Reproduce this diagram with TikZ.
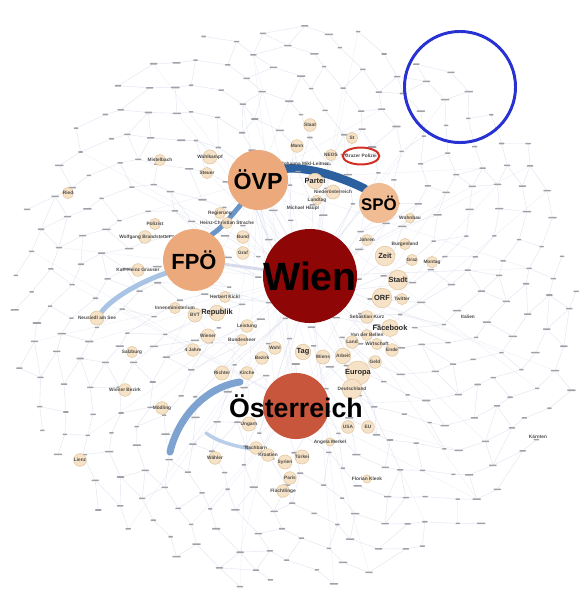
\documentclass[tikz,border=0pt]{standalone}
\usepackage{fontspec}
\setmainfont{Liberation Sans}
\usetikzlibrary{shapes.geometric}

\definecolor{wienred}{RGB}{142,6,6}
\definecolor{oered}{RGB}{200,86,60}
\definecolor{party}{RGB}{236,170,124}
\definecolor{partylight}{RGB}{240,188,148}
\definecolor{smallfill}{RGB}{246,226,198}
\definecolor{smalldraw}{RGB}{228,200,160}
\definecolor{dashgray}{RGB}{160,160,168}
\definecolor{faintblue}{RGB}{214,218,236}
\definecolor{darkband}{RGB}{44,96,158}
\definecolor{midband}{RGB}{104,148,200}
\definecolor{lightband}{RGB}{168,195,228}
\definecolor{ringblue}{RGB}{40,50,210}
\definecolor{ringred}{RGB}{210,46,36}

\pgfdeclarelayer{bg}
\pgfdeclarelayer{edges}
\pgfsetlayers{bg,edges,main}

\tikzset{
  gdot/.style={rectangle,rounded corners=0.4pt,fill=dashgray,inner sep=0pt,minimum height=1.1pt},
  faint/.style={draw=faintblue,line width=0.3pt,opacity=.7},
  sn/.style={circle,fill=smallfill,draw=smalldraw,line width=0.4pt,inner sep=0pt,minimum size=#1},
  mtxt/.style={font=\fontsize{5.3}{6}\selectfont\bfseries,text=black!85,inner sep=0pt},
  ttxt/.style={font=\fontsize{3.4}{4}\selectfont\bfseries,text=black!70,inner sep=0pt},
  big/.style={circle,inner sep=0pt,minimum size=#1},
  bigtxt/.style={font=\fontsize{#1}{#1}\selectfont\bfseries,text=black,inner sep=0pt},
  band/.style={line width=#1,line cap=round},
}

\begin{document}
\begin{tikzpicture}[x=0.25mm,y=-0.25mm]
\useasboundingbox (0,0) rectangle (587,601);

% unlabelled terms
\foreach \i in {1,...,420}{
  \pgfmathsetmacro\r{285*sqrt(\i/420)}
  \pgfmathsetmacro\a{360*(\i*0.381966-floor(\i*0.381966))}
  \pgfmathsetmacro\w{3.2+mod(\i,5)*0.7}
  \node[gdot,minimum width=\w pt] (d\i) at ({295+\r*cos(\a)+5*sin(\i*7)},{305+\r*sin(\a)+4*cos(\i*13)}) {};
}

% small terms
\node[sn=10pt,label={[ttxt]center:Wahlkampf}] (wahlkampf) at (210,157) {};
\node[sn=8pt,label={[ttxt]center:Steuer}] (steuer) at (207,173) {};
\node[sn=8pt,label={[ttxt]center:Regierung}] (regierung) at (220,213) {};
\node[sn=9pt,label={[ttxt]center:Staat}] (staat) at (310,125) {};
\node[sn=9pt,label={[ttxt]center:Mann}] (mann) at (297,146) {};
\node[sn=8pt,label={[ttxt]center:St}] (st) at (352,138) {};
\node[sn=8pt,label={[ttxt]center:NEOS}] (neos) at (331,155) {};
\node[ttxt] (mikl) at (305,164) {Johanna Mikl-Leitner};
\node[sn=11pt,label={[mtxt]center:Partei}] (partei) at (315,181) {};
\node[sn=10pt,label={[ttxt]center:Niederösterreich}] (niederoe) at (333,192) {};
\node[sn=7pt,label={[ttxt]center:Landtag}] (landtag) at (317,200) {};
\node[ttxt] (haeupl) at (303,208) {Michael Häupl};
\node[sn=7pt,label={[ttxt]center:Wohnbau}] (wohnbau) at (410,218) {};
\node[sn=8pt,label={[ttxt]center:Burgenland}] (burgenland) at (405,244) {};
\node[sn=8pt,label={[ttxt]center:Jahren}] (jahren) at (367,240) {};
\node[sn=14pt,label={[mtxt]center:Zeit}] (zeit) at (385,256) {};
\node[sn=8pt,label={[ttxt]center:Graz}] (graz) at (412,260) {};
\node[sn=8pt,label={[ttxt]center:Montag}] (montag) at (432,262) {};
\node[sn=14pt,label={[mtxt]center:Stadt}] (stadt) at (398,280) {};
\node[sn=14pt,label={[mtxt]center:ORF}] (orf) at (382,298) {};
\node[sn=8pt,label={[ttxt]center:Twitter}] (twitter) at (402,299) {};
\node[sn=9pt,label={[ttxt]center:Sebastian Kurz}] (kurz) at (367,317) {};
\node[ttxt] (italien) at (468,317) {Italien};
\node[sn=12pt,label={[mtxt]center:Facebook}] (facebook) at (390,328) {};
\node[sn=8pt,label={[ttxt]center:Van der Bellen}] (vdb) at (367,335) {};
\node[sn=9pt,label={[ttxt]center:Land}] (land) at (352,342) {};
\node[sn=8pt,label={[ttxt]center:Wirtschaft}] (wirtschaft) at (377,344) {};
\node[sn=9pt,label={[ttxt]center:Ende}] (ende) at (392,350) {};
\node[sn=11pt,label={[ttxt]center:Arbeit}] (arbeit) at (343,356) {};
\node[sn=9pt,label={[ttxt]center:Geld}] (geld) at (375,362) {};
\node[sn=10pt,label={[ttxt]center:Wiens}] (wiens) at (323,357) {};
\node[sn=11pt,label={[mtxt]center:Tag}] (tag) at (303,352) {};
\node[sn=17pt,label={[mtxt]center:Europa}] (europa) at (358,373) {};
\node[sn=14pt,label={[ttxt]center:Deutschland}] (deutschland) at (352,389) {};
\node[sn=9pt,label={[ttxt]center:USA}] (usa) at (348,427) {};
\node[sn=9pt,label={[ttxt]center:EU}] (eu) at (368,427) {};
\node[sn=6pt,label={[ttxt]center:Angela Merkel}] (merkel) at (330,442) {};
\node[sn=10pt,label={[ttxt]center:Ungarn}] (ungarn) at (249,424) {};
\node[sn=9pt,label={[ttxt]center:Nachbarn}] (nachbarn) at (256,448) {};
\node[sn=9pt,label={[ttxt]center:Kroatien}] (kroatien) at (268,455) {};
\node[sn=10pt,label={[ttxt]center:Syrien}] (syrien) at (285,462) {};
\node[sn=10pt,label={[ttxt]center:Türkei}] (tuerkei) at (302,457) {};
\node[sn=9pt,label={[ttxt]center:Paris}] (paris) at (290,478) {};
\node[sn=9pt,label={[ttxt]center:Flüchtlinge}] (fluechtlinge) at (283,491) {};
\node[sn=6pt,label={[ttxt]center:Florian Klenk}] (klenk) at (367,479) {};
\node[sn=9pt,label={[ttxt]center:Wähler}] (waehler) at (215,458) {};
\node[sn=10pt,label={[ttxt]center:Richter}] (richter) at (222,373) {};
\node[sn=9pt,label={[ttxt]center:Kirche}] (kirche) at (247,373) {};
\node[sn=9pt,label={[ttxt]center:Bezirk}] (bezirk) at (262,358) {};
\node[sn=9pt,label={[ttxt]center:Wahl}] (wahl) at (275,348) {};
\node[sn=9pt,label={[ttxt]center:4 Jahre}] (vierjahre) at (193,350) {};
\node[sn=10pt,label={[ttxt]center:Wiener}] (wiener) at (208,336) {};
\node[sn=8pt,label={[ttxt]center:Bundesheer}] (bundesheer) at (242,340) {};
\node[sn=9pt,label={[ttxt]center:Leistung}] (leistung) at (247,326) {};
\node[sn=11pt,label={[mtxt]center:Republik}] (republik) at (217,313) {};
\node[sn=10pt,label={[ttxt]center:BVT}] (bvt) at (195,315) {};
\node[sn=8pt,label={[ttxt]center:Innenministerium}] (innenmin) at (175,308) {};
\node[sn=8pt,label={[ttxt]center:Herbert Kickl}] (kickl) at (225,297) {};
\node[sn=9pt,label={[ttxt]center:Graf}] (graf) at (243,253) {};
\node[sn=9pt,label={[ttxt]center:Bund}] (bund) at (243,237) {};
\node[sn=8pt,label={[ttxt]center:Heinz-Christian Strache}] (strache) at (227,223) {};
\node[sn=9pt,label={[ttxt]center:Wolfgang Brandstetter}] (brandstetter) at (145,237) {};
\node[sn=8pt,label={[ttxt]center:Polizist}] (polizist) at (155,224) {};
\node[sn=9pt,label={[ttxt]center:Karl-Heinz Grasser}] (grasser) at (138,270) {};
\node[sn=8pt,label={[ttxt]center:Ried}] (ried) at (68,193) {};
\node[sn=8pt,label={[ttxt]center:Mistelbach}] (mistelbach) at (160,160) {};
\node[sn=10pt,label={[ttxt]center:Neusiedl am See}] (neusiedl) at (97,318) {};
\node[sn=8pt,label={[ttxt]center:Salzburg}] (salzburg) at (132,352) {};
\node[sn=9pt,label={[ttxt]center:Wiener Bezirk}] (wrbezirk) at (125,390) {};
\node[sn=9pt,label={[ttxt]center:Mödling}] (moedling) at (162,408) {};
\node[sn=9pt,label={[ttxt]center:Lienz}] (lienz) at (80,460) {};
\node[ttxt] (kaernten) at (538,437) {Kärnten};

% highlighted cluster and term
\node[ellipse,draw=ringred,line width=1.4pt,minimum width=26pt,minimum height=12pt,inner sep=0pt,
  label={[ttxt]center:Grazer Polizei}] (grazpol) at (361,156) {};
\node[circle,draw=ringblue,line width=2.1pt,minimum size=79pt,inner sep=0pt] (cluster) at (460,87) {};

% hubs
\node[big=42.7pt,fill=party,label={[bigtxt=16.5]center:ÖVP}] (ovp) at (258,180) {};
\node[big=44pt,fill=party,label={[bigtxt=15.6]center:FPÖ}] (fpo) at (194,260) {};
\node[big=28.5pt,fill=partylight,label={[bigtxt=12]center:SPÖ}] (spo) at (379,203) {};
\node[big=66.9pt,fill=wienred,label={[bigtxt=28]center:Wien}] (wien) at (310,276) {};
\node[big=47pt,fill=oered,label={[bigtxt=19]center:Österreich}] (oe) at (296,406) {};

\coordinate (arca) at (240,382);
\coordinate (arcb) at (170,452);
\coordinate (arcc) at (206,433);

% faint co-occurrence edges
\begin{pgfonlayer}{bg}
\fill[white] (0,0) rectangle (587,601);
\foreach \i in {1,...,386}{
  \pgfmathtruncatemacro\j{\i+34}
  \draw[faint] (d\i) -- (d\j);
}
\foreach \i in {1,4,...,365}{
  \pgfmathtruncatemacro\j{\i+55}
  \draw[faint] (d\i) -- (d\j);
}
\foreach \i in {2,7,...,399}{
  \pgfmathtruncatemacro\j{\i+21}
  \draw[faint] (d\i) -- (d\j);
}
\foreach \i in {4,13,...,420}
  \draw[faint,opacity=.4] (d\i) -- (wien);
\foreach \i in {7,29,...,420}
  \draw[faint,opacity=.4] (d\i) -- (oe);
\foreach \i in {11,40,...,420}
  \draw[faint,opacity=.4] (d\i) -- (ovp);
\end{pgfonlayer}

% strong edges
\begin{pgfonlayer}{edges}
\draw[band=2pt,faintblue] (fpo) -- (wien);
\draw[band=6pt,darkband] (ovp.22) .. controls (305,167) and (335,174) .. (spo.135);
\draw[band=3.5pt,midband] (ovp.235) .. controls (232,215) and (222,228) .. (fpo.55);
\draw[band=3.5pt,lightband] (fpo.205) .. controls (140,282) and (112,298) .. (neusiedl);
\draw[band=5pt,midband,opacity=.85] (arca) .. controls (205,387) and (178,418) .. (arcb);
\draw[band=2.5pt,lightband,opacity=.8] (arcc) .. controls (225,447) and (250,447) .. (kroatien);
\end{pgfonlayer}
\end{tikzpicture}
\end{document}
